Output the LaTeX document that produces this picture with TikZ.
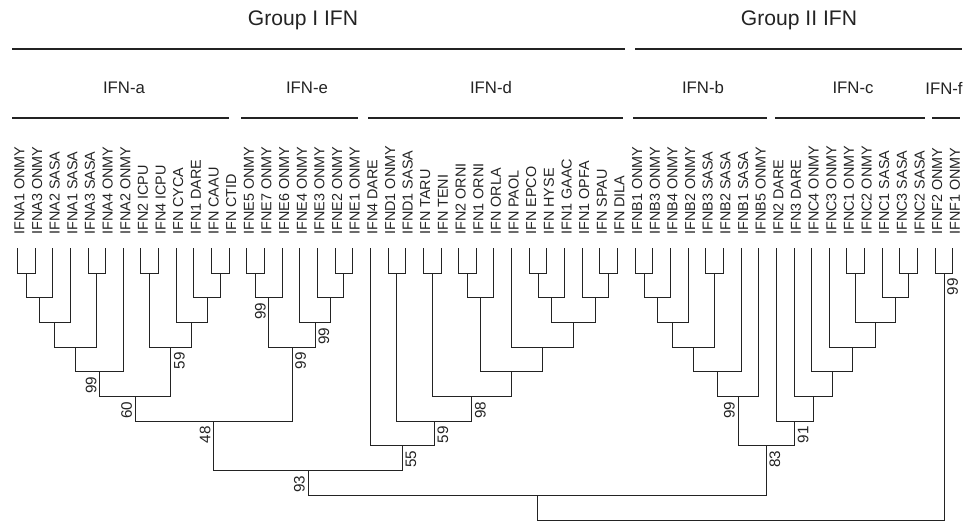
\documentclass[tikz,border=0pt]{standalone}
\usepackage{fontspec}
\setmainfont{Liberation Sans}
\usetikzlibrary{calc}
\definecolor{treegray}{RGB}{35,35,35}

\begin{document}
\begin{tikzpicture}[x=0.03cm,y=-0.03cm,
  branch/.style={draw=treegray,line width=0.8pt},
  bar/.style={draw=treegray,line width=2.2pt},
  leaf/.style={rotate=90,anchor=west,inner sep=0pt,text=treegray,
               font=\fontsize{12.3}{14}\selectfont},
  boot/.style={rotate=90,inner xsep=4pt,inner ysep=2.5pt,text=treegray,
               font=\fontsize{13}{15}\selectfont},
  bsl/.style={boot,anchor=south east},
  bsr/.style={boot,anchor=north east},
  grp/.style={text=treegray,font=\fontsize{18}{20}\selectfont},
  sub/.style={text=treegray,font=\fontsize{14.3}{16}\selectfont}]
  \useasboundingbox (0,0) rectangle (966,521);

  % group headers
  \node[grp] (gI) at (303,20) {Group I IFN};
  \node[grp] (gII) at (799,20) {Group II IFN};
  \draw[bar] (12,49) -- (625,49);
  \draw[bar] (635,49) -- (962,49);

  % subfamily headers
  \node[sub] (ha) at (124,88) {IFN-a};
  \node[sub] (he) at (307,88) {IFN-e};
  \node[sub] (hd) at (491,88) {IFN-d};
  \node[sub] (hb) at (703,88) {IFN-b};
  \node[sub] (hc) at (853,88) {IFN-c};
  \node[sub] (hf) at (944,88) {IFN-f};
  \foreach \xa/\xb in {12/229,241/358,368/623,633/767,775/925,932/960}
    \draw[bar] (\xa,118) -- (\xb,118);

  % leaves
  \foreach \t [count=\i from 0] in {IFNA1 ONMY,IFNA3 ONMY,IFNA2 SASA,IFNA1 SASA,
      IFNA3 SASA,IFNA4 ONMY,IFNA2 ONMY,IFN2 ICPU,IFN4 ICPU,IFN CYCA,IFN1 DARE,
      IFN CAAU,IFN CTID,IFNE5 ONMY,IFNE7 ONMY,IFNE6 ONMY,IFNE4 ONMY,IFNE3 ONMY,
      IFNE2 ONMY,IFNE1 ONMY,IFN4 DARE,IFND1 ONMY,IFND1 SASA,IFN TARU,IFN TENI,
      IFN2 ORNI,IFN1 ORNI,IFN ORLA,IFN PAOL,IFN EPCO,IFN HYSE,IFN1 GAAC,
      IFN1 OPFA,IFN SPAU,IFN DILA,IFNB1 ONMY,IFNB3 ONMY,IFNB4 ONMY,IFNB2 ONMY,
      IFNB3 SASA,IFNB2 SASA,IFNB1 SASA,IFNB5 ONMY,IFN2 DARE,IFN3 DARE,
      IFNC4 ONMY,IFNC3 ONMY,IFNC1 ONMY,IFNC2 ONMY,IFNC1 SASA,IFNC3 SASA,
      IFNC2 SASA,IFNF2 ONMY,IFNF1 ONMY} {
    \coordinate (L\i) at ({17.4+17.65*\i},248);
    \node[leaf] (n\i) at ({19.4+17.65*\i},235) {\t};
  }

  % clades: name/left/right/level
  \foreach \nd/\ca/\cb/\lv in {a1/L0/L1/1,a2/a1/L2/2,a3/a2/L3/3,a4/L4/L5/1,
      a5/a3/a4/4,a6/a5/L6/5,a7/L7/L8/1,a8/L11/L12/1,a9/L10/a8/2,a10/L9/a9/3,
      a11/a7/a10/4,a12/a6/a11/6,
      e1/L13/L14/1,e2/e1/L15/2,e3/L18/L19/1,e4/L17/e3/2,e5/L16/e4/3,e6/e2/e5/4,
      ae/a12/e6/7,
      d1/L21/L22/1,d2/L23/L24/1,d3/L25/L26/1,d4/d3/L27/2,d5/L29/L30/1,
      d6/d5/L31/2,d7/L33/L34/1,d8/L32/d7/2,d9/d6/d8/3,d10/L28/d9/4,
      d11/d4/d10/5,d12/d2/d11/6,d13/d1/d12/7,d14/L20/d13/8,
      g1/ae/d14/9,
      b1/L35/L36/1,b2/b1/L37/2,b3/b2/L38/3,b4/L39/L40/1,b5/b3/b4/4,
      b6/b5/L41/5,b7/b6/L42/6,
      c1/L47/L48/1,c2/L50/L51/1,c3/L49/c2/2,c4/c1/c3/3,c5/L46/c4/4,
      c6/L45/c5/5,c7/L44/c6/6,c8/L43/c7/7,
      bc/b7/c8/8,f1/L52/L53/1,g2/g1/bc/10,root/g2/f1/11} {
    \pgfmathsetmacro\yy{248.6+24.67*\lv}
    \coordinate (m\nd) at ($(\ca)!0.5!(\cb)$);
    \coordinate (\nd) at (m\nd |- 0,\yy);
    \draw[branch] (\ca) |- (\nd) -| (\cb);
  }

  % bootstrap values
  \node[bsl] (s1) at (a6) {99};
  \node[bsr] (s2) at (a11) {59};
  \node[bsl] (s3) at (a12) {60};
  \node[bsl] (s4) at (e2) {99};
  \node[bsr] (s5) at (e5) {99};
  \node[bsr] (s6) at (e6) {99};
  \node[bsl] (s7) at (ae) {48};
  \node[bsl] (s8) at (g1) {93};
  \node[bsr] (s9) at (d14) {55};
  \node[bsr] (s10) at (d13) {59};
  \node[bsr] (s11) at (d12) {98};
  \node[bsl] (s12) at (b7) {99};
  \node[bsr] (s13) at (c8) {91};
  \node[bsr] (s14) at (bc) {83};
  \node[bsr] (s15) at (f1) {99};
\end{tikzpicture}
\end{document}
